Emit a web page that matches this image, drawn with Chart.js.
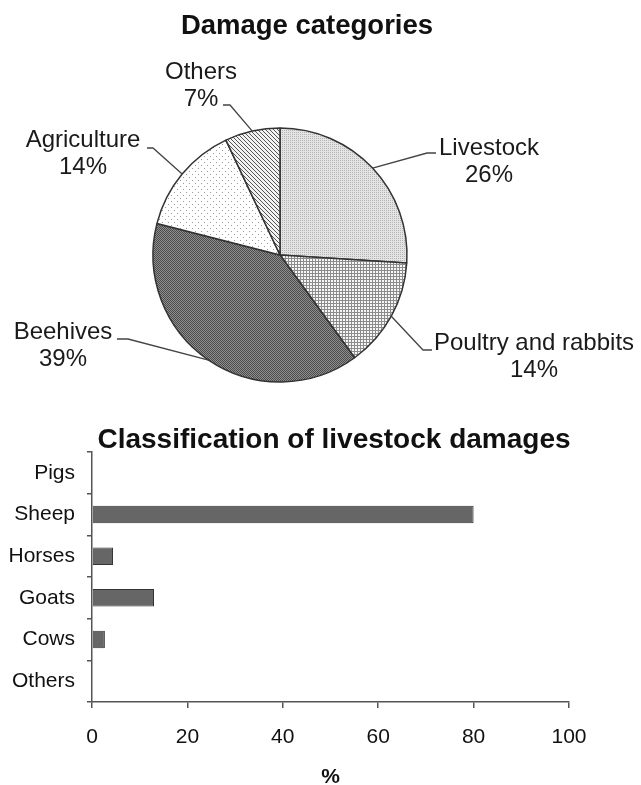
<!DOCTYPE html>
<html>
<head>
<meta charset="utf-8">
<script src="https://cdn.jsdelivr.net/npm/chart.js@4/dist/chart.umd.min.js"></script>
<style>
  html, body { margin:0; padding:0; background:#fff; width:641px; height:785px; overflow:hidden; }
  canvas { position:absolute; left:0; }
  #pie { top:0; }
  #bar { top:400px; }
</style>
</head>
<body>
<canvas id="pie" width="641" height="400"></canvas>
<canvas id="bar" width="641" height="400"></canvas>
<script>
// ---- Data ----
const pieTitle = 'Damage categories';
const pieLabels = ['Livestock', 'Poultry and rabbits', 'Beehives', 'Agriculture', 'Others'];
const pieValues = [26, 14, 39, 14, 7];

const barTitle = 'Classification of livestock damages';
const barCategories = ['Pigs', 'Sheep', 'Horses', 'Goats', 'Cows', 'Others'];
const barValues = [0, 80, 4.4, 13, 2.7, 0];
const xTickValues = [0, 20, 40, 60, 80, 100];
const xAxisTitle = '%';

// ---- Styling ----
const FONT = '"Liberation Sans", Arial, Helvetica, sans-serif';

function makePattern(size, draw) {
  const c = document.createElement('canvas');
  c.width = size; c.height = size;
  const g = c.getContext('2d');
  draw(g, size);
  return document.createElement('canvas').getContext('2d').createPattern(c, 'repeat');
}
function px(g, x, y, col) { g.fillStyle = col; g.fillRect(x, y, 1, 1); }

const patLivestock = makePattern(2, (g) => {
  g.fillStyle = '#e4e4e4'; g.fillRect(0, 0, 2, 2);
  px(g, 0, 0, '#b4b4b4');
});
const patPoultry = makePattern(3, (g) => {
  g.fillStyle = '#f6f6f6'; g.fillRect(0, 0, 3, 3);
  g.fillStyle = '#8c8c8c'; g.fillRect(0, 0, 3, 1); g.fillRect(0, 0, 1, 3);
});
const patBeehives = makePattern(2, (g) => {
  g.fillStyle = '#8e8e8e'; g.fillRect(0, 0, 2, 2);
  px(g, 0, 0, '#4c4c4c'); px(g, 1, 1, '#4c4c4c');
});
const patAgri = makePattern(6, (g) => {
  g.fillStyle = '#ffffff'; g.fillRect(0, 0, 6, 6);
  px(g, 0, 0, '#9a9a9a'); px(g, 3, 3, '#9a9a9a');
});
const patOthers = makePattern(4, (g) => {
  g.fillStyle = '#f2f2f2'; g.fillRect(0, 0, 4, 4);
  for (let i = 0; i < 4; i++) px(g, i, i, '#555555');
});
const pieFills = [patLivestock, patPoultry, patBeehives, patAgri, patOthers];

// label layout (annotation positions, not data)
const pieLabelLayout = [
  { elbow: [427, 153], end: [436, 153], tx: 489, ty: 148 },
  { elbow: [423, 350], end: [432, 350], tx: 534, ty: 343 },
  { elbow: [128, 339], end: [117, 339], tx: 63,  ty: 332 },
  { elbow: [153, 148], end: [147, 148], tx: 83,  ty: 140 },
  { elbow: [230, 105], end: [223, 105], tx: 201, ty: 72 }
];

const pieLabelPlugin = {
  id: 'pieLabels',
  afterDatasetsDraw(chart) {
    const ctx = chart.ctx;
    const meta = chart.getDatasetMeta(0);
    ctx.save();
    ctx.strokeStyle = '#444';
    ctx.lineWidth = 1.3;
    ctx.fillStyle = '#1a1a1a';
    ctx.font = '24px ' + FONT;
    ctx.textAlign = 'center';
    ctx.textBaseline = 'middle';
    meta.data.forEach((arc, i) => {
      const p = arc.getProps(['x', 'y', 'startAngle', 'endAngle', 'outerRadius'], true);
      const mid = (p.startAngle + p.endAngle) / 2;
      const ax = p.x + Math.cos(mid) * p.outerRadius;
      const ay = p.y + Math.sin(mid) * p.outerRadius;
      const L = pieLabelLayout[i];
      ctx.beginPath();
      ctx.moveTo(ax, ay);
      ctx.lineTo(L.elbow[0], L.elbow[1]);
      ctx.lineTo(L.end[0], L.end[1]);
      ctx.stroke();
      ctx.fillText(chart.data.labels[i], L.tx, L.ty);
      ctx.fillText(chart.data.datasets[0].data[i] + '%', L.tx, L.ty + 27);
    });
    ctx.font = 'bold 27.5px ' + FONT;
    ctx.fillStyle = '#111';
    ctx.fillText(pieTitle, 307, 26);
    ctx.restore();
  }
};

new Chart(document.getElementById('pie'), {
  type: 'pie',
  data: {
    labels: pieLabels,
    datasets: [{
      data: pieValues,
      backgroundColor: pieFills,
      borderColor: '#333',
      borderWidth: 1.5,
      radius: 127
    }]
  },
  options: {
    responsive: false,
    animation: false,
    layout: { padding: { left: 150, right: 231, top: 128, bottom: 18 } },
    plugins: { legend: { display: false }, tooltip: { enabled: false } }
  },
  plugins: [pieLabelPlugin]
});

const barTitlePlugin = {
  id: 'barTitle',
  afterDraw(chart) {
    const ctx = chart.ctx;
    ctx.save();
    ctx.font = 'bold 28px ' + FONT;
    ctx.fillStyle = '#111';
    ctx.textAlign = 'center';
    ctx.textBaseline = 'middle';
    ctx.fillText(barTitle, 334, 40);
    ctx.restore();
  }
};

new Chart(document.getElementById('bar'), {
  type: 'bar',
  data: {
    labels: barCategories,
    datasets: [{
      data: barValues,
      backgroundColor: '#666666',
      borderColor: '#333333',
      borderWidth: 1,
      barPercentage: 0.42,
      categoryPercentage: 1
    }]
  },
  options: {
    indexAxis: 'y',
    responsive: false,
    animation: false,
    layout: { padding: { left: 0, right: 72, top: 52, bottom: 0 } },
    scales: {
      x: {
        type: 'linear',
        min: xTickValues[0],
        max: xTickValues[xTickValues.length - 1],
        afterBuildTicks(s) { s.ticks = xTickValues.map(v => ({ value: v })); },
        ticks: { color: '#111', font: { family: FONT, size: 21 }, padding: 17, maxRotation: 0 },
        grid: { drawOnChartArea: false, drawTicks: true, tickLength: 6, color: '#555', lineWidth: 1.5 },
        border: { color: '#555', width: 1.5 },
        title: { display: true, text: xAxisTitle, color: '#111', font: { family: FONT, size: 21, weight: 'bold' }, padding: { top: 0, bottom: 10 } },
        afterFit(s) { s.height = 98; }
      },
      y: {
        ticks: { color: '#111', font: { family: FONT, size: 21 }, padding: 12 },
        grid: { drawOnChartArea: false, drawTicks: true, tickLength: 5, color: '#555', lineWidth: 1.5, offset: true },
        border: { color: '#555', width: 1.5 },
        afterFit(s) { s.width = 92; }
      }
    },
    plugins: { legend: { display: false }, tooltip: { enabled: false } }
  },
  plugins: [barTitlePlugin]
});
</script>
</body>
</html>
